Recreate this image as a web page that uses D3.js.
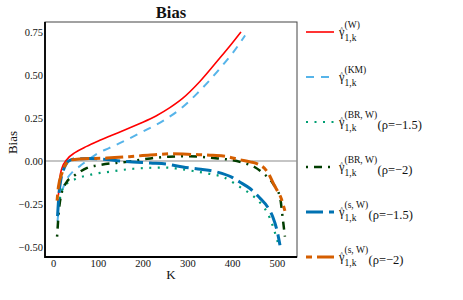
<!DOCTYPE html>
<head>
    <meta charset="utf-8">
    <script src="https://d3js.org/d3.v7.min.js"></script>
    <style>
        body { margin:0; background:#fff; }
        text { font-family: "Liberation Serif", "DejaVu Serif", serif; fill:#111; }
    </style>
</head>
<body>
<script>
    // axis ticks
    var xTicks = [0, 100, 200, 300, 400, 500];
    var yTicks = [0.75, 0.5, 0.25, 0, -0.25, -0.5];

    // series
    var kW    = [12, 15, 20, 30, 50, 75, 100, 130, 160, 194, 230, 261, 290, 328, 373, 400, 420];
    var biasW = [-0.2, -0.1, -0.04, 0.006, 0.05, 0.085, 0.115, 0.148, 0.18, 0.218, 0.262, 0.31, 0.365, 0.462, 0.6, 0.685, 0.75];

    var kKM    = [10, 15, 22, 30, 45, 60, 80, 100, 125, 150, 200, 250, 283, 321, 350, 380, 402, 429];
    var biasKM = [-0.35, -0.22, -0.16, -0.11, -0.06, -0.03, 0.01, 0.045, 0.075, 0.105, 0.17, 0.24, 0.3, 0.39, 0.47, 0.56, 0.63, 0.73];

    var kBR15    = [15, 20, 31, 50, 83, 127, 180, 250, 280, 313, 350, 380, 417, 440, 462, 484, 503];
    var biasBR15 = [-0.22, -0.17, -0.13, -0.105, -0.08, -0.062, -0.045, -0.038, -0.045, -0.058, -0.075, -0.093, -0.15, -0.19, -0.24, -0.33, -0.48];

    var kBR2    = [9, 13, 18, 31, 45, 76, 105, 165, 217, 260, 300, 340, 368, 400, 424, 450, 469, 491, 507, 513, 518];
    var biasBR2 = [-0.44, -0.29, -0.2, -0.12, -0.09, -0.04, -0.023, -0.005, 0.015, 0.025, 0.028, 0.022, 0.015, 0.005, -0.01, -0.035, -0.07, -0.13, -0.21, -0.33, -0.44];

    var kS15    = [10, 13, 18, 25, 35, 50, 80, 120, 150, 217, 254, 290, 330, 366, 400, 417, 440, 462, 480, 491, 500, 507];
    var biasS15 = [-0.32, -0.2, -0.1, -0.04, 0.0, 0.012, 0.015, 0.008, 0.0, -0.012, -0.018, -0.035, -0.048, -0.064, -0.095, -0.122, -0.16, -0.215, -0.27, -0.325, -0.4, -0.49];

    var kS2    = [9, 12, 20, 28, 38, 60, 120, 170, 217, 268, 313, 357, 390, 413, 440, 455, 478, 496, 510, 518];
    var biasS2 = [-0.23, -0.15, -0.07, -0.02, 0.005, 0.012, 0.017, 0.025, 0.035, 0.042, 0.038, 0.033, 0.025, 0.01, -0.005, -0.015, -0.06, -0.15, -0.22, -0.29];

    var legendSup = ["(W)", "(KM)", "(BR, W)", "(BR, W)", "(s, W)", "(s, W)"];
    var legendRho = ["", "", "(ρ=−1.5)", "(ρ=−2)", "(ρ=−1.5)", "(ρ=−2)"];

    (function() {
    var serif = "Liberation Serif, DejaVu Serif, serif";
    var series = [
        {k: kW,    v: biasW,    color: "#ff0000", w: 1.6, dash: null},
        {k: kKM,   v: biasKM,   color: "#56b4e9", w: 2,   dash: "8,7"},
        {k: kBR15, v: biasBR15, color: "#009e73", w: 2.2, dash: "2,6.5"},
        {k: kBR2,  v: biasBR2,  color: "#003d00", w: 2.5, dash: "2,6,8,6"},
        {k: kS15,  v: biasS15,  color: "#0072b2", w: 3,   dash: "17,6"},
        {k: kS2,   v: biasS2,   color: "#d55e00", w: 3,   dash: "6,5,18,5"}
    ];

    var W = 463, H = 300;
    var pl = 45, pr = 297, pt = 22, pb = 257;

    var svg = d3.select("body").append("svg")
        .attr("width", W)
        .attr("height", H);

    var x = d3.scaleLinear().domain([-18, 545]).range([pl, pr]);
    var y = d3.scaleLinear().domain([-0.558, 0.808]).range([pb, pt]);

    // panel frame
    svg.append("rect")
        .attr("x", pl).attr("y", pt)
        .attr("width", pr - pl).attr("height", pb - pt)
        .attr("fill", "none").attr("stroke", "#444").attr("stroke-width", 1);

    // zero line
    svg.append("line")
        .attr("x1", pl).attr("x2", pr)
        .attr("y1", y(0)).attr("y2", y(0))
        .attr("stroke", "#8c8c8c").attr("stroke-width", 1.2);

    var line = d3.line()
        .x(function(d) { return x(d[0]); })
        .y(function(d) { return y(d[1]); })
        .curve(d3.curveMonotoneX);

    series.forEach(function(s) {
        var pts = s.k.map(function(k, i) { return [k, s.v[i]]; });
        svg.append("path")
            .attr("d", line(pts))
            .attr("fill", "none")
            .attr("stroke", s.color)
            .attr("stroke-width", s.w)
            .attr("stroke-dasharray", s.dash);
    });

    // axes
    var xAxis = svg.append("g")
        .attr("transform", "translate(0," + pb + ")")
        .call(d3.axisBottom(x).tickValues(xTicks).tickSize(0).tickPadding(2.5));
    var yAxis = svg.append("g")
        .attr("transform", "translate(" + pl + ",0)")
        .call(d3.axisLeft(y).tickValues(yTicks).tickSize(0).tickPadding(2).tickFormat(d3.format(".2f")));
    [xAxis, yAxis].forEach(function(a) {
        a.select(".domain").remove();
        a.attr("font-family", serif);
        a.selectAll("text").attr("font-size", "10.5px").attr("fill", "#222");
    });

    // thick left and bottom axis lines
    svg.append("path")
        .attr("d", "M" + pl + "," + pt + "V" + pb + "H" + pr)
        .attr("fill", "none").attr("stroke", "#000").attr("stroke-width", 1.8);

    svg.append("text")
        .attr("x", (pl + pr) / 2).attr("y", 18)
        .attr("text-anchor", "middle")
        .attr("font-family", serif)
        .attr("font-weight", "bold").attr("font-size", "16.5px")
        .text("Bias");

    svg.append("text")
        .attr("x", (pl + pr) / 2).attr("y", 279)
        .attr("text-anchor", "middle")
        .attr("font-family", serif)
        .attr("font-size", "13px")
        .text("K");

    svg.append("text")
        .attr("transform", "translate(17," + ((pt + pb) / 2 + 3) + ") rotate(-90)")
        .attr("text-anchor", "middle")
        .attr("font-family", serif)
        .attr("font-size", "13px")
        .text("Bias");

    // legend
    series.forEach(function(s, i) {
        var yc = 32 + 45 * i;
        svg.append("line")
            .attr("x1", 306).attr("x2", 334)
            .attr("y1", yc).attr("y2", yc)
            .attr("stroke", s.color)
            .attr("stroke-width", s.w)
            .attr("stroke-dasharray", s.dash);

        var g = svg.append("g").attr("font-family", serif);
        g.append("text")
            .attr("x", 339).attr("y", yc + 4)
            .attr("font-size", "12.5px")
            .text("\u03b3");
        g.append("text")
            .attr("x", 339.8).attr("y", yc + 0.5)
            .attr("font-size", "8.5px")
            .text("^");
        var sup = g.append("text")
            .attr("x", 344.5).attr("y", yc - 4)
            .attr("font-size", "9.5px")
            .text(legendSup[i]);
        var sub = g.append("text")
            .attr("x", 344.5).attr("y", yc + 9)
            .attr("font-size", "9.5px")
            .text("1,k");
        if (legendRho[i]) {
            var xe = 344.5 + Math.max(sup.node().getComputedTextLength(), sub.node().getComputedTextLength());
            g.append("text")
                .attr("x", xe + 0.5).attr("y", yc + 7)
                .attr("font-size", "12.5px")
                .text(legendRho[i]);
        }
    });
    })();
</script>
</body>
